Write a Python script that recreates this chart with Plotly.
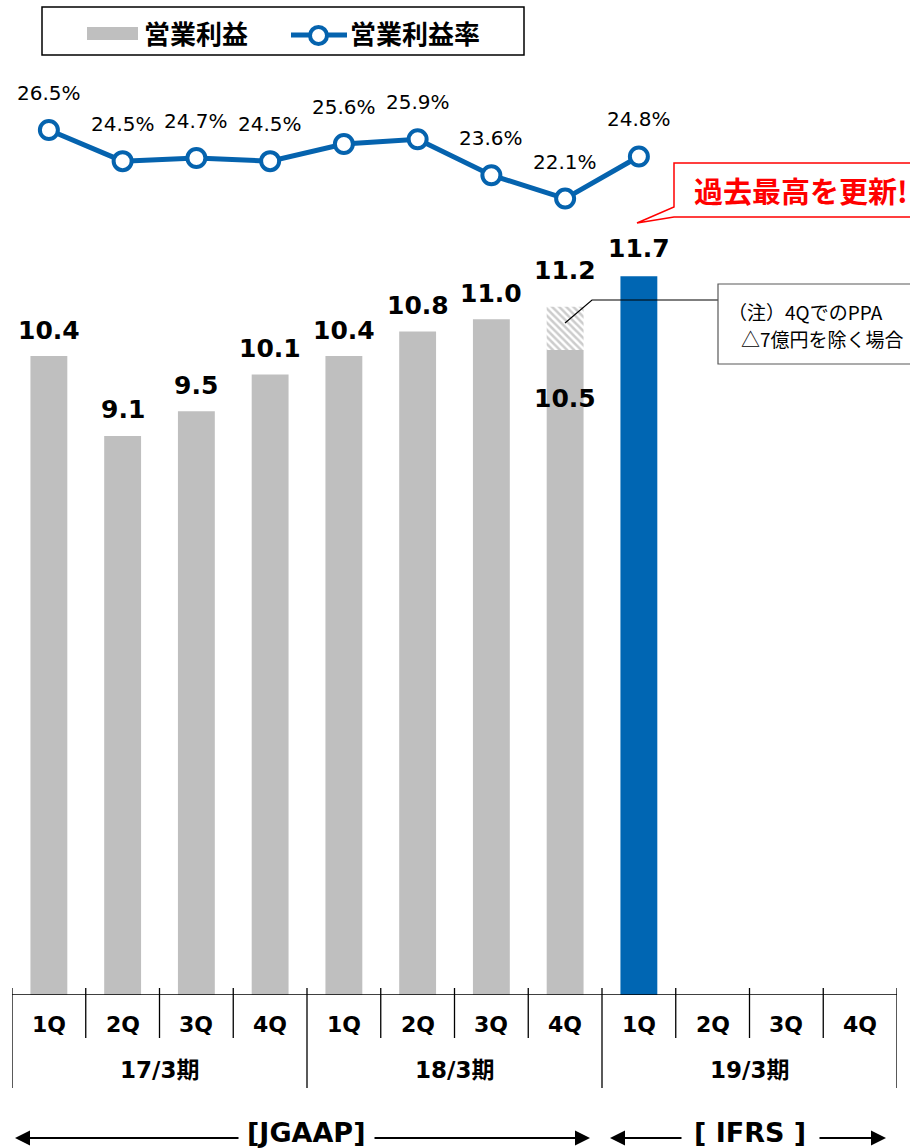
import plotly.graph_objects as go

# ---- data -------------------------------------------------------------
quarters = ["1Q", "2Q", "3Q", "4Q"] * 3
periods = ["17/3期", "18/3期", "19/3期"]
profit = [10.4, 9.1, 9.5, 10.1, 10.4, 10.8, 11.0, 10.5, 11.7]   # 営業利益（億円）
profit_ex_ppa = 11.2                                               # 18/3期 4Q, PPA△7億円を除く
margin = [26.5, 24.5, 24.7, 24.5, 25.6, 25.9, 23.6, 22.1, 24.8]   # 営業利益率（%）

GRAY = "#BFBFBF"
BLUE = "#0563AE"
BAR_BLUE = "#0066B3"
JP = "Noto Sans CJK JP"
NUM = "DejaVu Sans, Noto Sans CJK JP"

W, H = 910, 1148
L, R, T, B = 12, 13, 0, 153
PW, PH = W - L - R, H - T - B
BASE_PY = H - B  # pixel row of the zero line


def px(xp):
    """page pixel column -> paper x"""
    return (xp - L) / PW


def py(yp):
    """page pixel row -> paper y"""
    return (BASE_PY - yp) / PH


def text(x, y, s, size, family=JP, color="black", bold=False, xanchor="center",
         xref="paper", yref="paper", yshift=0):
    return dict(x=x, y=y, xref=xref, yref=yref, text=s, showarrow=False,
                xanchor=xanchor, yanchor="middle", yshift=yshift, borderpad=0,
                font=dict(family=family, size=size, color=color,
                          weight="bold" if bold else "normal"))


n_slots = len(quarters)
idx = list(range(len(profit)))
bar_colors = [GRAY] * (len(profit) - 1) + [BAR_BLUE]

fig = go.Figure()

fig.add_trace(go.Bar(
    x=idx, y=profit, width=0.5, marker=dict(color=bar_colors, line_width=0),
    showlegend=False, hoverinfo="skip",
))

# hatched increment for the PPA-adjusted 4Q figure
fig.add_trace(go.Bar(
    x=[7], base=[profit[7]], y=[profit_ex_ppa - profit[7]], width=0.5,
    marker=dict(color="white", line_width=0,
                pattern=dict(shape="\\", fgcolor="#9A9A9A", bgcolor="white",
                             size=5, solidity=0.5)),
    showlegend=False, hoverinfo="skip",
))

fig.add_trace(go.Scatter(
    x=idx, y=margin, yaxis="y2", mode="lines+markers",
    line=dict(color=BLUE, width=5),
    marker=dict(symbol="circle", size=18, color="white",
                line=dict(color=BLUE, width=4)),
    showlegend=False, hoverinfo="skip",
))

ann = []
shapes = []

# bar value labels
for i, v in enumerate(profit):
    if i == 7:
        continue
    ann.append(text(i, v, f"{v:.1f}", 25, NUM, bold=True, xref="x", yref="y",
                    yshift=28 if i == 8 else 26))
ann.append(text(7, profit_ex_ppa, f"{profit_ex_ppa:.1f}", 25, NUM, bold=True,
                xref="x", yref="y", yshift=36))
ann.append(text(7, profit[7], f"{profit[7]:.1f}", 25, NUM, bold=True,
                xref="x", yref="y", yshift=-49))

# margin labels
for i, v in enumerate(margin):
    ann.append(text(i, v, f"{v:.1f}%", 20, NUM, xref="x", yref="y2", yshift=37))

# category axis: quarter and period rows
for i, q in enumerate(quarters):
    ann.append(text(i, py(1024), q, 22, NUM, bold=True, xref="x"))
for k, p in enumerate(periods):
    ann.append(text(4 * k + 1.5, py(1070), p, 23, NUM, bold=True, xref="x"))

shapes.append(dict(type="line", xref="x", yref="y", x0=-0.5, x1=n_slots - 0.5,
                   y0=0, y1=0, line=dict(color="black", width=1.5)))
for k in range(n_slots + 1):
    bottom = 1088 if k % 4 == 0 else 1038
    shapes.append(dict(type="line", xref="x", yref="paper", x0=k - 0.5, x1=k - 0.5,
                       y0=py(988), y1=py(bottom), line=dict(color="black", width=1.3)))

# accounting standard spans
for label, cx, left_tip, left_tail, right_tail, right_tip in [
    ("[JGAAP]", 306, 15, 240, 373, 590),
    ("[ IFRS ]", 750, 610, 683, 818, 886),
]:
    ann.append(text(px(cx), py(1132), label, 27, NUM, bold=True))
    for tip, tail in [(left_tip, left_tail), (right_tip, right_tail)]:
        ann.append(dict(x=px(tip), y=py(1138), xref="paper", yref="paper", text="",
                        showarrow=True, ax=tail - tip, ay=0, axref="pixel", ayref="pixel",
                        arrowhead=2, arrowsize=1.5, arrowwidth=2, arrowcolor="black"))

# legend
shapes.append(dict(type="rect", xref="paper", yref="paper", x0=px(42), x1=px(524),
                   y0=py(7), y1=py(55), line=dict(color="black", width=1.5),
                   fillcolor="white"))
shapes.append(dict(type="rect", xref="paper", yref="paper", x0=px(87), x1=px(138),
                   y0=py(27), y1=py(40), line_width=0, fillcolor=GRAY))
ann.append(text(px(196), py(33), "営業利益", 26, bold=True))
shapes.append(dict(type="line", xref="paper", yref="paper", x0=px(291), x1=px(347),
                   y0=py(35), y1=py(35), line=dict(color=BLUE, width=5)))
shapes.append(dict(type="circle", xref="paper", yref="paper", x0=px(310), x1=px(327),
                   y0=py(27), y1=py(44), line=dict(color=BLUE, width=4),
                   fillcolor="white"))
ann.append(text(px(415), py(33), "営業利益率", 26, bold=True))

# record-high callout
pts = [(674, 163), (920, 163), (920, 217), (674, 217), (637, 223), (674, 207)]
path = "M " + " L ".join(f"{px(a):.5f},{py(b):.5f}" for a, b in pts) + " Z"
shapes.append(dict(type="path", xref="paper", yref="paper", path=path,
                   line=dict(color="#FF0000", width=1.5), fillcolor="white"))
ann.append(text(px(693), py(190), "過去最高を更新!", 29, color="#FF0000", bold=True,
                xanchor="left"))

# PPA note
note_line = [(565, 323), (592, 300), (718, 300)]
shapes.append(dict(type="path", xref="paper", yref="paper",
                   path="M " + " L ".join(f"{px(a):.5f},{py(b):.5f}" for a, b in note_line),
                   line=dict(color="black", width=1.2)))
shapes.append(dict(type="rect", xref="paper", yref="paper", x0=px(718), x1=px(920),
                   y0=py(284), y1=py(364), line=dict(color="#595959", width=1.2),
                   fillcolor="white"))
ann.append(text(px(727), py(312), "（注）4QでのPPA", 19, xanchor="left"))
ann.append(text(px(740), py(338), "△7億円を除く場合", 19, xanchor="left"))

units_per_px = 1 / 61.44
fig.update_layout(
    width=W, height=H,
    margin=dict(l=L, r=R, t=T, b=B),
    paper_bgcolor="white", plot_bgcolor="white",
    barmode="overlay",
    xaxis=dict(range=[-0.5, n_slots - 0.5], visible=False, fixedrange=True),
    yaxis=dict(range=[0, PH * units_per_px], visible=False, fixedrange=True),
    yaxis2=dict(range=[-28.95, 34.83], overlaying="y", visible=False, fixedrange=True),
    annotations=ann,
    shapes=shapes,
)

fig.write_html("out.html")
